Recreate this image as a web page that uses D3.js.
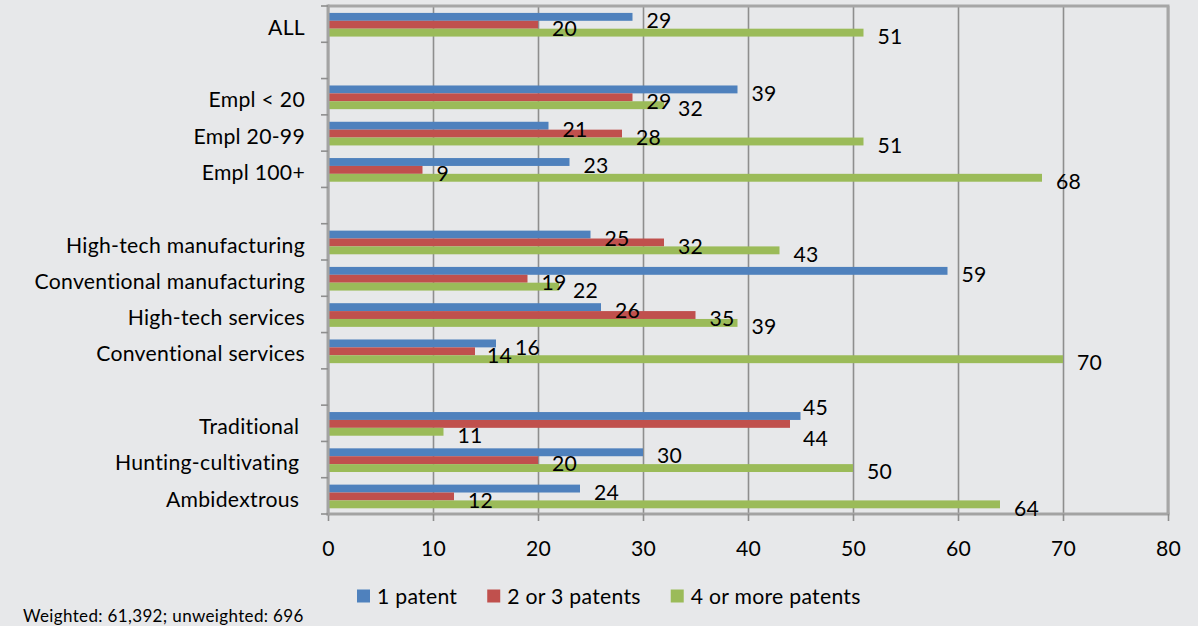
<!DOCTYPE html>
<html>
<head>
<meta charset="utf-8">
<script src="https://cdn.jsdelivr.net/npm/d3@7"></script>
<style>
  html, body { margin: 0; padding: 0; background: #e7e8ea; }
  svg { display: block; }
  text { font-family: Lato, "Open Sans", sans-serif; fill: #000; }
</style>
</head>
<body>
<svg id="chart" width="1198" height="626"></svg>
<script>
// ---- data ----
const categories = ["ALL", "", "Empl < 20", "Empl 20-99", "Empl 100+", "",
  "High-tech manufacturing", "Conventional manufacturing", "High-tech services", "Conventional services", "",
  "Traditional ", "Hunting-cultivating ", "Ambidextrous "];
const seriesNames = ["1 patent", "2 or 3 patents", "4 or more patents"];
const onePatent       = [29, null, 39, 21, 23, null, 25, 59, 26, 16, null, 45, 30, 24];
const twoThreePatents = [20, null, 29, 28,  9, null, 32, 19, 35, 14, null, 44, 20, 12];
const fourPlusPatents = [51, null, 32, 51, 68, null, 43, 22, 39, 70, null, 11, 50, 64];
const xTicks = [0, 10, 20, 30, 40, 50, 60, 70, 80];
const footnote = "Weighted: 61,392; unweighted: 696";

// ---- style ----
const colors = ["#4f81bd", "#c0504d", "#9bbb59"];
const labelNudge = { "11-0": [-11.5, -12.5], "11-1": [-1, 11], "9-0": [5, 0], "9-1": [-2, 0] };
const FS = 21.2;
const LS = 0.28;

const svg = d3.select("#chart");
const m = { left: 328, right: 1168, top: 6, bottom: 514 };

const x = d3.scaleLinear().domain([0, 80]).range([m.left, m.right]);
const y = d3.scaleBand().domain(d3.range(categories.length)).range([m.top, m.bottom]).padding(0);
const ys = d3.scaleBand().domain(d3.range(seriesNames.length)).range([0, y.bandwidth()]).paddingInner(0).paddingOuter(0.8);

const seriesData = [onePatent, twoThreePatents, fourPlusPatents];

// gridlines
const grid = svg.append("g").attr("transform", `translate(0,${m.bottom})`)
  .call(d3.axisBottom(x).tickValues(xTicks).tickSize(-(m.bottom - m.top)).tickFormat(""));
grid.select(".domain").remove();
grid.selectAll("line").attr("stroke", "#8e8e8e").attr("stroke-width", 1.6);

// bars
const rows = [];
seriesData.forEach((arr, s) => arr.forEach((v, i) => { if (v != null) rows.push({ i, s, v }); }));

svg.append("g").selectAll("rect").data(rows).join("rect")
  .attr("x", m.left)
  .attr("y", d => y(d.i) + ys(d.s) + 0.6)
  .attr("width", d => x(d.v) - m.left)
  .attr("height", ys.bandwidth())
  .attr("fill", d => colors[d.s]);

// bottom axis
const xa = svg.append("g").attr("transform", `translate(0,${m.bottom})`)
  .call(d3.axisBottom(x).tickValues(xTicks).tickSize(7).tickPadding(22).tickFormat(d3.format("d")));
xa.select(".domain").attr("stroke", "#a3a3a3").attr("stroke-width", 3)
  .attr("d", `M${m.left - 1.5},0H${m.right + 1.5}`);
xa.selectAll(".tick line").attr("stroke", "#8e8e8e").attr("stroke-width", 1.6);
xa.selectAll(".tick text").attr("font-size", FS).attr("font-family", "Lato").attr("fill", "#000")
  .attr("letter-spacing", LS).attr("dy", "0.6em");

// plot border top and right
svg.append("path")
  .attr("d", `M${m.left},${m.top}H${m.right}V${m.bottom}`)
  .attr("fill", "none").attr("stroke", "#a6a6a6").attr("stroke-width", 3);

// left axis
const la = svg.append("g");
la.append("line").attr("x1", m.left).attr("x2", m.left).attr("y1", m.top - 1.5).attr("y2", m.bottom + 1.5)
  .attr("stroke", "#a3a3a3").attr("stroke-width", 3);
const bounds = d3.range(categories.length + 1).map(i => i < categories.length ? y(i) : m.bottom);
la.selectAll("line.tk").data(bounds).join("line").attr("class", "tk")
  .attr("x1", m.left - 7).attr("x2", m.left).attr("y1", d => d).attr("y2", d => d)
  .attr("stroke", "#8e8e8e").attr("stroke-width", 1.6);

// category labels
svg.append("g").selectAll("text").data(categories).join("text")
  .attr("x", 305)
  .attr("y", (d, i) => y(i) + y.bandwidth() / 2 + 2.7)
  .attr("text-anchor", "end")
  .attr("dominant-baseline", "central")
  .attr("font-size", FS)
  .attr("letter-spacing", LS)
  .style("white-space", "pre")
  .text(d => d);

// data labels
svg.append("g").selectAll("text").data(rows).join("text")
  .attr("x", d => x(d.v) + 14 + (labelNudge[d.i + "-" + d.s] || [0, 0])[0])
  .attr("y", d => y(d.i) + ys(d.s) + ys.bandwidth() / 2 + 0.6 + 3.2 + (labelNudge[d.i + "-" + d.s] || [0, 0])[1])
  .attr("dominant-baseline", "central")
  .attr("font-size", FS)
  .attr("letter-spacing", LS)
  .text(d => d.v);

// legend
const lg = svg.append("g").attr("class", "legend");
let lx = 357;
seriesNames.forEach((name, s) => {
  lg.append("rect").attr("x", lx).attr("y", 589.5).attr("width", 13).attr("height", 13).attr("fill", colors[s]);
  const t = lg.append("text").attr("x", lx + 20).attr("y", 596).attr("dominant-baseline", "central")
    .attr("font-size", FS).attr("letter-spacing", LS).text(name);
  lx += 20 + t.node().getComputedTextLength() + 30;
});

// footnote
svg.append("text").attr("x", 23).attr("y", 621.5).attr("font-size", 17).attr("letter-spacing", 0.35).text(footnote);
</script>
</body>
</html>
